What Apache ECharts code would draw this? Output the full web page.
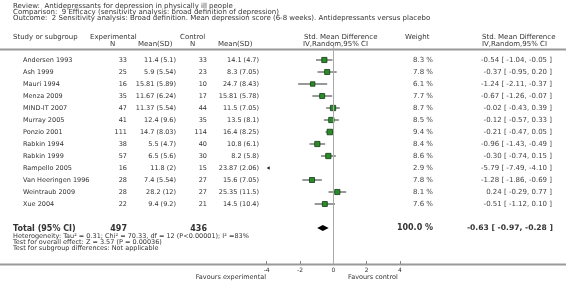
<!DOCTYPE html>
<html>
<head>
    <meta charset="utf-8">
    <title>Forest plot</title>
    <script src="https://cdn.jsdelivr.net/npm/echarts@6/dist/echarts.min.js"></script>
    <style>
        html, body { margin: 0; padding: 0; background: #fff; }
    </style>
</head>
<body>
    <div id="main" style="width: 566px;height:289px;"></div>
    <script type="text/javascript">
    // rows of the table
    var studies = ['Andersen 1993', 'Ash 1999', 'Mauri 1994', 'Menza 2009', 'MIND-IT 2007', 'Murray 2005',
        'Ponzio 2001', 'Rabkin 1994', 'Rabkin 1999', 'Rampello 2005', 'Van Heeringen 1996', 'Weintraub 2009', 'Xue 2004'];
    var expN = [33, 25, 16, 35, 47, 41, 111, 38, 57, 16, 28, 28, 22];
    var expMean = ['11.4 (5.1)', '5.9 (5.54)', '15.81 (5.89)', '11.67 (6.24)', '11.37 (5.54)', '12.4 (9.6)',
        '14.7 (8.03)', '5.5 (4.7)', '6.5 (5.6)', '11.8 (2)', '7.4 (5.54)', '28.2 (12)', '9.4 (9.2)'];
    var ctrlN = [33, 23, 10, 17, 44, 35, 114, 40, 30, 15, 27, 27, 21];
    var ctrlMean = ['14.1 (4.7)', '8.3 (7.05)', '24.7 (8.43)', '15.81 (5.78)', '11.5 (7.05)', '13.5 (8.1)',
        '16.4 (8.25)', '10.8 (6.1)', '8.2 (5.8)', '23.87 (2.06)', '15.6 (7.05)', '25.35 (11.5)', '14.5 (10.4)'];
    var weights = [8.3, 7.8, 6.1, 7.7, 8.7, 8.5, 9.4, 8.4, 8.6, 2.9, 7.8, 8.1, 7.6];
    var smd = [-0.54, -0.37, -1.24, -0.67, -0.02, -0.12, -0.21, -0.96, -0.30, -5.79, -1.28, 0.24, -0.51];
    var ciLo = [-1.04, -0.95, -2.11, -1.26, -0.43, -0.57, -0.47, -1.43, -0.74, -7.49, -1.86, -0.29, -1.12];
    var ciHi = [-0.05, 0.20, -0.37, -0.07, 0.39, 0.33, 0.05, -0.49, 0.15, -4.10, -0.69, 0.77, 0.10];

    // pooled result
    var totalRow = 14;
    var totalN = [497, 436];
    var totalSmd = [-0.63, -0.97, -0.28];
    var totalWeight = 100.0;

    var xTicks = [-4, -2, 0, 2, 4];

    var FONT = 'DejaVu Sans';
    var TXT = '#333';
    var xMin = -4, xMax = 4;

    function f2(v) { return v.toFixed(2); }
    function ciText(e, l, h) { return f2(e) + ' [ ' + f2(l) + ', ' + f2(h) + ' ]'; }

    var forestData = [];
    var tableData = [];
    for (var i = 0; i < studies.length; i++) {
        forestData.push([i, smd[i], ciLo[i], ciHi[i], weights[i]]);
        tableData.push([0, i]);
    }

    var myChart = echarts.init(document.getElementById('main'));

    function txt(x, y, s, opt) {
        opt = opt || {};
        return {
            type: 'text', x: x, y: y, silent: true,
            style: {
                text: s, fill: opt.color || TXT,
                font: (opt.bold ? 'bold ' : '') + (opt.size || 6.5) + 'px "' + FONT + '"',
                align: opt.align || 'left', verticalAlign: 'middle'
            }
        };
    }

    var H = {size: 7};
    var graphics = [
        txt(13, 6, 'Review:  Antidepressants for depression in physically ill people', H),
        txt(13, 12, 'Comparison:  9 Efficacy (sensitivity analysis: broad definition of depression)', H),
        txt(13, 18, 'Outcome:  2 Sensitivity analysis: Broad definition. Mean depression score (6-8 weeks). Antidepressants versus placebo', H),
        txt(13, 37, 'Study or subgroup', H),
        txt(90, 37, 'Experimental', H),
        txt(110, 44, 'N', H),
        txt(138, 44, 'Mean(SD)', H),
        txt(180, 37, 'Control', H),
        txt(190, 44, 'N', H),
        txt(218, 44, 'Mean(SD)', H),
        txt(304, 37, 'Std. Mean Difference', H),
        txt(303, 44, 'IV,Random,95% CI', H),
        txt(405, 37, 'Weight', H),
        txt(482, 37, 'Std. Mean Difference', H),
        txt(482, 44, 'IV,Random,95% CI', H),
        txt(13, 236, 'Heterogeneity: Tau\u00b2 = 0.31; Chi\u00b2 = 70.33, df = 12 (P<0.00001); I\u00b2 =83%'),
        txt(13, 242, 'Test for overall effect: Z = 3.57 (P = 0.00036)'),
        txt(13, 248, 'Test for subgroup differences: Not applicable'),
        txt(266, 277, 'Favours experimental', {align: 'right'}),
        txt(348, 277, 'Favours control'),
        {
            type: 'line', silent: true,
            shape: {x1: 0, y1: 49.5, x2: 566, y2: 49.5},
            style: {stroke: '#999', lineWidth: 2}
        },
        {
            type: 'line', silent: true,
            shape: {x1: 0, y1: 264.5, x2: 566, y2: 264.5},
            style: {stroke: '#999', lineWidth: 2}
        }
    ];

    myChart.setOption({
        animation: false,
        grid: {left: 266.67, right: 166, top: 45, bottom: 25, outerBoundsMode: 'none'},
        xAxis: {
            type: 'value', min: xMin, max: xMax, interval: 2, position: 'bottom',
            axisLine: {show: false, onZero: false},
            axisTick: {show: true, inside: true, length: 3, lineStyle: {color: '#888'}},
            axisLabel: {fontSize: 6, fontFamily: FONT, color: TXT, margin: 3,
                formatter: function (v) { return xTicks.indexOf(v) >= 0 ? String(v) : ''; }},
            splitLine: {show: false}
        },
        yAxis: {type: 'value', min: -1.25, max: 17, inverse: true, show: false},
        graphic: graphics,
        series: [{
            name: 'studies',
            type: 'custom',
            data: forestData,
            encode: {x: [1, 2, 3], y: 0},
            renderItem: function (params, api) {
                var row = api.value(0), est = api.value(1), lo = api.value(2), hi = api.value(3), w = api.value(4);
                var kids = [];
                // estimate off the left end of the scale: just an arrow
                if (hi < xMin) {
                    var p = api.coord([xMin, row]);
                    kids.push({type: 'polygon', shape: {points: [[p[0], p[1]], [p[0] + 3, p[1] - 1.8], [p[0] + 3, p[1] + 1.8]]},
                        style: {fill: '#222'}});
                    return {type: 'group', children: kids};
                }
                var a = api.coord([Math.max(lo, xMin), row]);
                var b = api.coord([Math.min(hi, xMax), row]);
                var c = api.coord([est, row]);
                var s = Math.sqrt(w) * 1.8;
                kids.push({type: 'line', shape: {x1: a[0], y1: a[1], x2: b[0], y2: b[1]},
                    style: {stroke: '#333', lineWidth: 1}});
                kids.push({type: 'rect', shape: {x: c[0] - s / 2, y: c[1] - s / 2, width: s, height: s},
                    style: {fill: '#2c8a2c', stroke: '#0d3d0d', lineWidth: 0.8}});
                return {type: 'group', children: kids};
            },
            markLine: {
                silent: true, symbol: 'none', label: {show: false},
                lineStyle: {color: '#aaa', width: 1, type: 'solid'},
                data: [{xAxis: 0}]
            },
            z: 3
        }, {
            name: 'total',
            type: 'custom',
            data: [[totalRow, totalSmd[0], totalSmd[1], totalSmd[2]]],
            encode: {x: [1, 2, 3], y: 0},
            renderItem: function (params, api) {
                var row = api.value(0);
                var l = api.coord([api.value(2), row]);
                var e = api.coord([api.value(1), row]);
                var h = api.coord([api.value(3), row]);
                return {type: 'polygon', shape: {points: [[l[0], l[1]], [e[0], e[1] - 3], [h[0], h[1]], [e[0], e[1] + 3]]},
                    style: {fill: '#000'}};
            },
            z: 3
        }, {
            name: 'table',
            type: 'custom',
            data: tableData.concat([[0, totalRow]]),
            encode: {x: 0, y: 1},
            clip: false,
            renderItem: function (params, api) {
                var row = api.value(1);
                var y = api.coord([0, row])[1];
                if (row === totalRow) {
                    var B = {bold: true, size: 8};
                    var BR = {bold: true, size: 8, align: 'right'};
                    return {type: 'group', children: [
                        txt(13, y + 1, 'Total (95% CI)', B),
                        txt(127, y + 1, String(totalN[0]), BR),
                        txt(207, y + 1, String(totalN[1]), BR),
                        txt(433, y, totalWeight.toFixed(1) + ' %', BR),
                        txt(553, y, ciText(totalSmd[0], totalSmd[1], totalSmd[2]), {bold: true, size: 7.6, align: 'right'})
                    ]};
                }
                var i = params.dataIndex;
                var R = {align: 'right'};
                var RS = {align: 'right', size: 7, color: '#444'};
                return {type: 'group', children: [
                    txt(23, y, studies[i]),
                    txt(127, y, String(expN[i]), R),
                    txt(176, y, expMean[i], R),
                    txt(207, y, String(ctrlN[i]), R),
                    txt(259, y, ctrlMean[i], R),
                    txt(433, y, weights[i].toFixed(1) + ' %', RS),
                    txt(552, y, ciText(smd[i], ciLo[i], ciHi[i]), RS)
                ]};
            }
        }]
    });
    </script>
</body>
</html>
